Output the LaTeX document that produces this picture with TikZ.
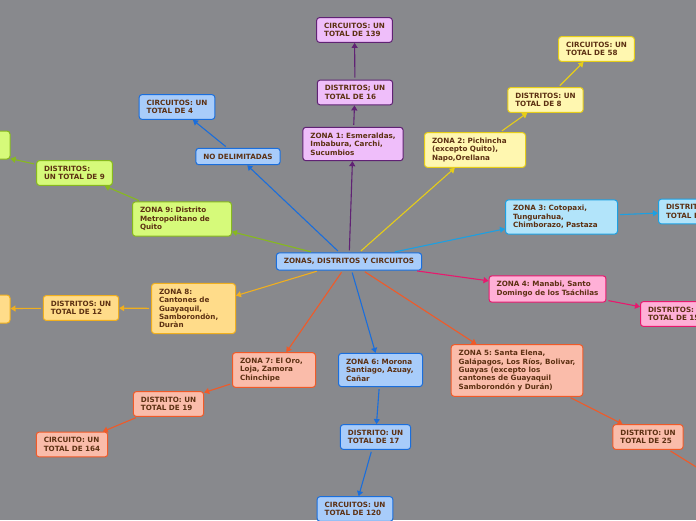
\documentclass[tikz,border=0pt]{standalone}
\usepackage{fontspec}
\setmainfont{DejaVu Sans}
\usetikzlibrary{arrows.meta}

\definecolor{bg}{RGB}{136,137,141}
\definecolor{txt}{RGB}{92,48,18}
\definecolor{blueF}{RGB}{168,204,250}   \definecolor{blueD}{RGB}{26,110,220}
\definecolor{violF}{RGB}{239,190,250}   \definecolor{violD}{RGB}{96,34,116}
\definecolor{yellF}{RGB}{255,247,176}   \definecolor{yellD}{RGB}{230,205,24}
\definecolor{lgreF}{RGB}{214,250,122}   \definecolor{lgreD}{RGB}{135,185,30}
\definecolor{cyanF}{RGB}{178,228,250}   \definecolor{cyanD}{RGB}{28,160,226}
\definecolor{pinkF}{RGB}{255,176,215}   \definecolor{pinkD}{RGB}{232,24,110}
\definecolor{salmF}{RGB}{250,188,170}   \definecolor{salmD}{RGB}{240,90,40}
\definecolor{orngF}{RGB}{255,220,138}   \definecolor{orngD}{RGB}{240,175,30}

\begin{document}
\begin{tikzpicture}[x=1pt, y=-1pt, >={Triangle[length=5pt,width=6pt]},
  box/.style={draw, rounded corners=3pt, line width=1pt, align=left,
    inner xsep=7.5pt, inner ysep=5.5pt, text=txt,
    font=\fontsize{7.2}{8.4}\selectfont\bfseries\frenchspacing},
  bluebox/.style={box, fill=blueF, draw=blueD},
  violbox/.style={box, fill=violF, draw=violD},
  yellbox/.style={box, fill=yellF, draw=yellD},
  lgrebox/.style={box, fill=lgreF, draw=lgreD},
  cyanbox/.style={box, fill=cyanF, draw=cyanD},
  pinkbox/.style={box, fill=pinkF, draw=pinkD},
  salmbox/.style={box, fill=salmF, draw=salmD},
  orngbox/.style={box, fill=orngF, draw=orngD},
  link/.style={->, line width=1.1pt, shorten <=2pt}]
  \useasboundingbox[fill=bg] (0,0) rectangle (696,520);

  % root
  \node[bluebox] (zc) at (349,261.5) {ZONAS, DISTRITOS Y CIRCUITOS};

  % zona 1
  \node[violbox] (z1) at (353,144) {ZONA 1: Esmeraldas,\\Imbabura, Carchi,\\Sucumbios};
  \node[violbox] (d1) at (355,92.5) {DISTRITOS; UN\\TOTAL DE 16};
  \node[violbox] (c1) at (354.5,30) {CIRCUITOS: UN\\TOTAL DE 139};
  % no delimitadas
  \node[bluebox] (nd) at (238,156.5) {NO DELIMITADAS};
  \node[bluebox] (cn) at (177,107) {CIRCUITOS: UN\\TOTAL DE 4};
  % zona 9
  \node[lgrebox, text width=84pt] (z9) at (182,219) {ZONA 9: Distrito\\Metropolitano de\\Quito};
  \node[lgrebox] (d9) at (74.5,173) {DISTRITOS:\\UN TOTAL DE 9};
  \node[lgrebox, minimum width=120pt, minimum height=28pt] (c9) at (-50,145) {};
  % zona 2
  \node[yellbox, text width=86pt] (z2) at (475,150) {ZONA 2: Pichincha\\(excepto Quito),\\Napo,Orellana};
  \node[yellbox] (d2) at (545.5,100) {DISTRITOS: UN\\TOTAL DE 8};
  \node[yellbox] (c2) at (596.5,49) {CIRCUITOS: UN\\TOTAL DE 58};
  % zona 3
  \node[cyanbox, text width=97pt] (z3) at (561.5,217) {ZONA 3: Cotopaxi,\\Tungurahua,\\Chimborazo, Pastaza};
  \node[cyanbox, anchor=west] (d3) at (658,211.5) {DISTRITOS: UN\\TOTAL DE};
  % zona 4
  \node[pinkbox] (z4) at (547.5,289) {ZONA 4: Manabi, Santo\\Domingo de los Tsáchilas};
  \node[pinkbox, anchor=west] (d4) at (640,314) {DISTRITOS: UN\\TOTAL DE 15};
  % zona 5
  \node[salmbox] (z5) at (517,370.5) {ZONA 5: Santa Elena,\\Galápagos, Los Ríos, Bolivar,\\Guayas (excepto los\\cantones de Guayaquil\\Samborondón y Durán)};
  \node[salmbox] (d5) at (648,437) {DISTRITO: UN\\TOTAL DE 25};
  \coordinate (c5) at (730,488);
  % zona 6
  \node[bluebox, text width=69pt] (z6) at (380.5,370) {ZONA 6: Morona\\Santiago, Azuay,\\Cañar};
  \node[bluebox] (d6) at (375.5,437) {DISTRITO: UN\\TOTAL DE 17};
  \node[bluebox] (c6) at (355,509) {CIRCUITOS: UN\\TOTAL DE 120};
  % zona 7
  \node[salmbox, text width=68pt] (z7) at (274,370) {ZONA 7: El Oro,\\Loja, Zamora\\Chinchipe};
  \node[salmbox] (d7) at (168.5,404) {DISTRITO: UN\\TOTAL DE 19};
  \node[salmbox] (c7) at (72,444.5) {CIRCUITO: UN\\TOTAL DE 164};
  % zona 8
  \node[orngbox, text width=69pt] (z8) at (193.5,308.5) {ZONA 8:\\Cantones de\\Guayaquil,\\Samborondòn,\\Duràn};
  \node[orngbox] (d8) at (81,308) {DISTRITOS: UN\\TOTAL DE 12};
  \node[orngbox, minimum width=120pt, minimum height=28pt] (c8) at (-50,309) {};

  % links
  \draw[link, violD] (zc) -- (z1);
  \draw[link, violD] (z1) -- (d1);
  \draw[link, violD] (d1) -- (c1);
  \draw[link, blueD] (zc) -- (nd);
  \draw[link, blueD] (nd) -- (cn);
  \draw[link, lgreD] (zc) -- (z9);
  \draw[link, lgreD] (z9) -- (d9);
  \draw[link, lgreD] (d9) -- (c9);
  \draw[link, yellD] (zc) -- (z2);
  \draw[link, yellD] (z2) -- (d2);
  \draw[link, yellD] (d2) -- (c2);
  \draw[link, cyanD] (zc) -- (z3);
  \draw[link, cyanD] (z3) -- (d3);
  \draw[link, pinkD] (zc) -- (z4);
  \draw[link, pinkD] (z4) -- (d4);
  \draw[link, salmD] (zc) -- (z5);
  \draw[link, salmD] (z5) -- (d5);
  \draw[link, salmD] (d5) -- (c5);
  \draw[link, blueD] (zc) -- (z6);
  \draw[link, blueD] (z6) -- (d6);
  \draw[link, blueD] (d6) -- (c6);
  \draw[link, salmD] (zc) -- (z7);
  \draw[link, salmD] (z7) -- (d7);
  \draw[link, salmD] (d7) -- (c7);
  \draw[link, orngD] (zc) -- (z8);
  \draw[link, orngD] (z8) -- (d8);
  \draw[link, orngD] (d8) -- (c8);
\end{tikzpicture}
\end{document}
